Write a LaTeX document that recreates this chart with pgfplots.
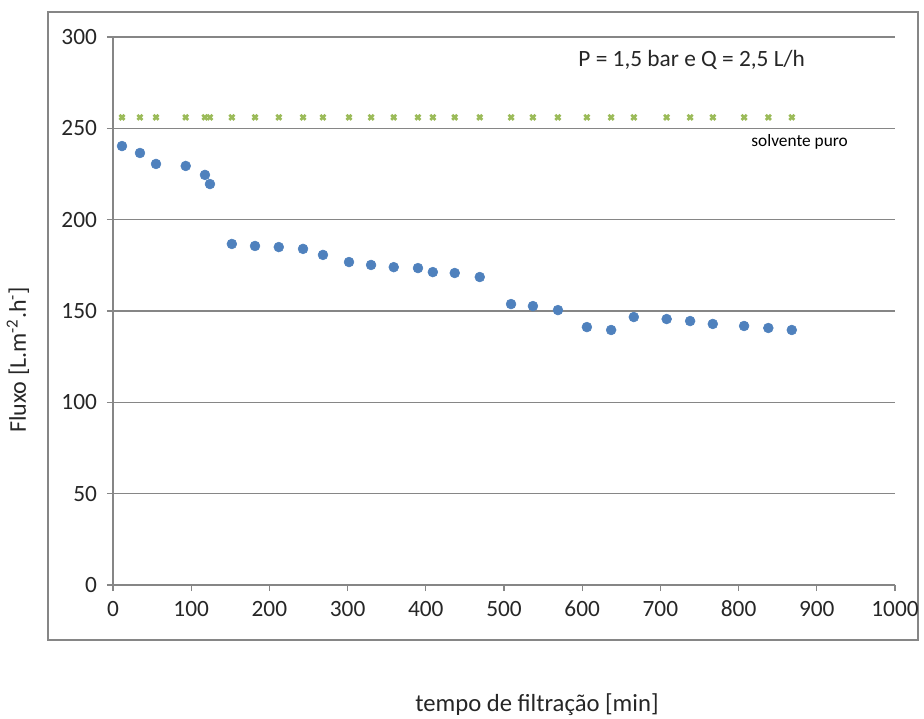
\documentclass[border=0pt]{standalone}
\usepackage{fontspec}
\setmainfont{Carlito}
\usepackage{pgfplots}
\pgfplotsset{compat=1.18}
\definecolor{xlblue}{HTML}{4F81BD}
\definecolor{xlgreen}{HTML}{9BBB59}
\definecolor{xlgray}{HTML}{868686}
\definecolor{txt}{HTML}{262626}

\begin{document}
\begin{tikzpicture}[x=0.75pt,y=0.75pt]
% picture = 924 x 718 px, 1 px = 0.75pt; origin at the axis' lower left corner
\useasboundingbox (-113,-133) rectangle (811,585);
\draw[xlgray, line width=1.5pt] (-65,-55) rectangle (805,573);
\begin{axis}[
  at={(0,0)}, anchor=south west,
  width=586.5pt, height=411pt, scale only axis,
  xmin=0, xmax=1000, ymin=0, ymax=300,
  xtick distance=100, ytick distance=50,
  axis x line*=bottom, axis y line*=left,
  axis line style={xlgray, line width=0.8pt},
  ymajorgrids, grid style={xlgray, line width=0.8pt},
  tick style={xlgray, line width=0.8pt},
  major tick length=4.5pt, tick align=outside,
  every tick label/.append style={font=\fontsize{17.5}{20}\selectfont, text=txt},
  xticklabel style={yshift=-4pt},
  yticklabel style={xshift=-4pt},
  /pgf/number format/assume math mode=true,
  /pgf/number format/1000 sep={},
  clip=false,
]
\addplot[only marks, mark=x, mark size=2.7pt, xlgreen, line width=2pt] coordinates {
(11.5,256) (34.5,256) (55,256) (93,256) (117.6,256) (124,256) (152,256)
(181.6,256) (212,256) (243,256) (268.5,256) (301.8,256) (330,256) (359,256)
(390,256) (409,256) (437,256) (469,256) (509,256) (537,256) (569,256)
(606,256) (637,256) (666,256) (708,256) (738,256) (767,256) (807,256)
(838,256) (868,256)};
\addplot[only marks, mark=*, mark size=3.7pt, xlblue] coordinates {
(11.5,240.3) (34.5,236.5) (55,230.5) (93,229.4) (117.6,224.5) (124,219.5)
(152,186.7) (181.6,185.6) (212,185) (243,184) (268.5,180.7) (301.8,176.8)
(330,175.2) (359,174) (390,173.5) (409,171.3) (437,170.8) (469,168.6)
(509,153.8) (537,152.7) (569,150.5) (606,141.2) (637,139.6) (666,146.7)
(708,145.6) (738,144.5) (767,142.9) (807,141.8) (838,140.7) (868,139.6)};
\node[font=\fontsize{17.5}{20}\selectfont, text=txt] at (axis cs:740,287.4) {P = 1,5 bar e Q = 2,5 L/h};
\node[font=\fontsize{13}{15}\selectfont, text=black] at (axis cs:878,242.5) {solvente puro};
\end{axis}
\node[font=\fontsize{18.5}{22}\selectfont, text=txt] at (424,-120) {tempo de filtração [min]};
\node[font=\fontsize{18}{22}\selectfont, text=txt, rotate=90] at (-95,225) {Fluxo [L.m\textsuperscript{-2}.h\textsuperscript{-}]};
\end{tikzpicture}
\end{document}
